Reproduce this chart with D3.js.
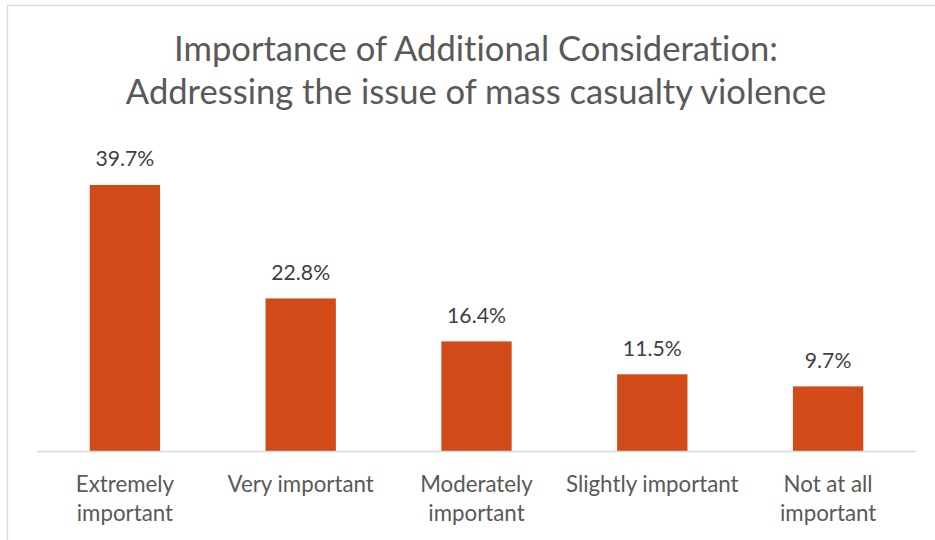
<!DOCTYPE html>
<html><head><meta charset="utf-8">
<script src="https://cdn.jsdelivr.net/npm/d3@7"></script>
<style>body{margin:0;background:#fff}svg{display:block}text{font-variant-ligatures:none;font-feature-settings:"liga" 0,"dlig" 0}</style>
</head><body>
<svg id="chart" width="935" height="540"></svg>
<script>
const titleLines = ["Importance of Additional Consideration:", "Addressing the issue of mass casualty violence"];
const categories = [["Extremely","important"],["Very important"],["Moderately","important"],["Slightly important"],["Not at all","important"]];
const values = [39.7, 22.8, 16.4, 11.5, 9.7];
const valueLabels = ["39.7%","22.8%","16.4%","11.5%","9.7%"];

const svg = d3.select("#chart");
const W = 935, H = 540;
const font = "Lato, 'Noto Sans', sans-serif";

svg.append("rect").attr("x",7.5).attr("y",5.5).attr("width",W).attr("height",H)
  .attr("fill","#fff").attr("stroke","#d9d9d9").attr("stroke-width",1.3);

const x = d3.scaleBand().domain(d3.range(values.length)).range([37,916]).paddingInner(0.6).paddingOuter(0.3);
const y = d3.scaleLinear().domain([0,45]).range([451.5, 451.5 - 45*6.713]);

svg.append("g").selectAll("text").data(titleLines).join("text")
  .attr("x",476).attr("y",(d,i)=>61+i*42.5)
  .attr("text-anchor","middle").attr("font-family",font).attr("font-size",34.6)
  .attr("fill","#595959").text(d=>d);

svg.append("g").selectAll("rect").data(values).join("rect")
  .attr("x",(d,i)=>x(i)).attr("width",x.bandwidth())
  .attr("y",d=>y(d)).attr("height",d=>y(0)-y(d)).attr("fill","#D24A18");

svg.append("line").attr("x1",37).attr("x2",916).attr("y1",y(0)).attr("y2",y(0))
  .attr("stroke","#d9d9d9").attr("stroke-width",1.3);

svg.append("g").selectAll("text").data(values).join("text")
  .attr("x",(d,i)=>x(i)+x.bandwidth()/2).attr("y",d=>y(d)-18.5)
  .attr("text-anchor","middle").attr("font-family",font).attr("font-size",21.2)
  .attr("fill","#404040").text((d,i)=>valueLabels[i]);

const cg = svg.append("g").selectAll("text").data(categories).join("text")
  .attr("x",(d,i)=>x(i)+x.bandwidth()/2).attr("y",492)
  .attr("text-anchor","middle").attr("font-family",font).attr("font-size",22.3)
  .attr("fill","#595959");
cg.selectAll("tspan").data(d=>d).join("tspan")
  .attr("x",function(){return this.parentNode.getAttribute("x");})
  .attr("dy",(d,i)=>i===0?0:29).text(d=>d);
</script>
</body></html>
